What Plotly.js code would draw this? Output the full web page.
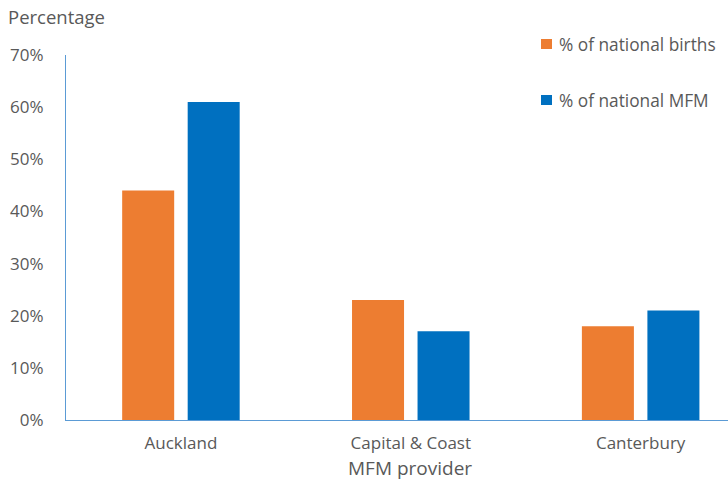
<!DOCTYPE html>
<html><head><meta charset="utf-8">
<script src="https://cdn.plot.ly/plotly-3.0.1.min.js"></script>
<style>html,body{margin:0;padding:0;background:#fff}#chart{width:728px;height:481px}</style>
</head><body><div id="chart"></div>
<script>
const categories = ["Auckland", "Capital & Coast", "Canterbury"];
const birthsPct = [44, 23, 18];
const mfmPct = [61, 17, 21];
const seriesNames = ["% of national births", "% of national MFM"];
const seriesColors = ["#ED7D31", "#0070C0"];
const yTicks = [0, 10, 20, 30, 40, 50, 60, 70];

const font = {family: "Open Sans, Liberation Sans, sans-serif", color: "#595959"};
const f = s => Object.assign({size: s}, font);
const traces = [
  {type: "bar", x: categories, y: birthsPct, name: seriesNames[0],
   marker: {color: seriesColors[0]}, hoverinfo: "skip"},
  {type: "bar", x: categories, y: mfmPct, name: seriesNames[1],
   marker: {color: seriesColors[1]}, hoverinfo: "skip"}
];
// manual legend (paper coordinates)
const px = v => (v - 66) / 662, py = v => (420 - v) / 365;
const legendRows = [44, 100];
const shapes = legendRows.map((yc, i) => ({
  type: "rect", xref: "paper", yref: "paper",
  x0: px(541), x1: px(552), y0: py(yc + 5), y1: py(yc - 5),
  fillcolor: seriesColors[i], line: {width: 0}
}));
const annotations = legendRows.map((yc, i) => ({
  text: seriesNames[i], xref: "paper", yref: "paper", x: px(557), y: py(yc),
  xanchor: "left", yanchor: "middle", showarrow: false, font: f(17.3)
}));
annotations.push({text: "Percentage", xref: "paper", yref: "paper", x: px(6), y: py(16),
  xanchor: "left", yanchor: "middle", showarrow: false, font: f(18.5)});
annotations.push({text: "MFM provider", xref: "paper", yref: "paper", x: px(410), y: py(468),
  xanchor: "center", yanchor: "middle", showarrow: false, font: f(19)});

const layout = {
  width: 728, height: 481,
  margin: {l: 66, r: 0, t: 55, b: 61},
  paper_bgcolor: "#fff", plot_bgcolor: "#fff",
  barmode: "group", bargap: 0.43, bargroupgap: 0.206,
  font: f(17), showlegend: false,
  xaxis: {range: [-0.5, 2.38], showline: true, linecolor: "#5B9BD5", linewidth: 1,
          ticks: "", tickfont: f(17), showgrid: false, zeroline: false, ticklabelstandoff: 8},
  yaxis: {range: [0, 70], tickvals: yTicks, ticktext: yTicks.map(v => v + "%"),
          showline: true, linecolor: "#5B9BD5", linewidth: 1, ticks: "", showgrid: false,
          zeroline: false, tickfont: f(17), ticklabelstandoff: 18},
  shapes: shapes, annotations: annotations
};
Plotly.newPlot("chart", traces, layout, {staticPlot: true, displayModeBar: false});
</script></body></html>
